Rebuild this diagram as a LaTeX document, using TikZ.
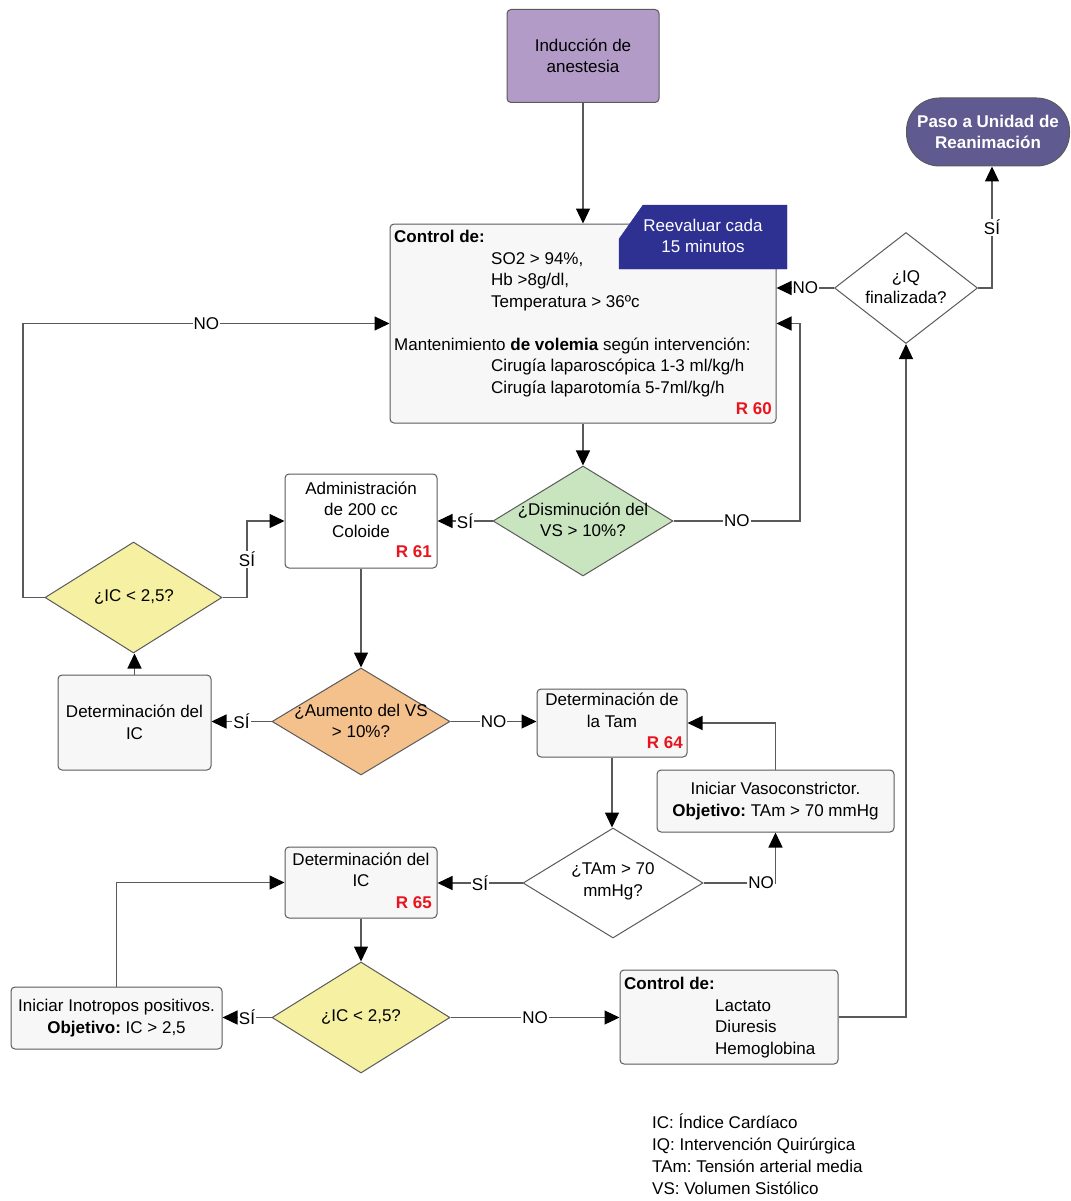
\documentclass[tikz,border=0pt]{standalone}
\usepackage{fontspec}
\setmainfont{Liberation Sans}
\frenchspacing
\usetikzlibrary{shapes.geometric, arrows.meta, positioning, calc}
\definecolor{lnc}{HTML}{5A5A5A}
\definecolor{induc}{HTML}{B39BC8}
\definecolor{pasoc}{HTML}{5F5B91}
\definecolor{reevc}{HTML}{2E3192}
\definecolor{dgreen}{HTML}{C8E5C0}
\definecolor{orng}{HTML}{F4C18D}
\definecolor{ylw}{HTML}{F5F0A2}
\definecolor{boxgray}{HTML}{F7F7F7}
\definecolor{refred}{HTML}{E8141E}

\begin{document}
\begin{tikzpicture}[x=1pt, y=-1pt,
  every node/.style={font=\fontsize{17}{21.5}\selectfont, inner sep=0pt},
  box/.style={draw=lnc, line width=1pt, rounded corners=4pt, fill=boxgray},
  dec/.style={diamond, draw=lnc, line width=1pt},
  txt/.style={align=center},
  ref/.style={text=refred, font=\fontsize{17}{20}\selectfont\bfseries, anchor=east},
  flow/.style={draw=lnc, line width=1.2pt, -{Triangle[length=15pt, width=14pt, color=black]}},
  lbl/.style={fill=white, inner sep=1pt}]
\useasboundingbox (0,0) rectangle (1070,1201);

% Top part
\node[box, fill=induc, minimum width=152, minimum height=93, txt] (ind) at (583,56) {Inducción de\\anestesia};
\node[box, fill=pasoc, rounded corners=33pt, minimum width=163, minimum height=68, txt, text=white,
      font=\fontsize{17}{21.5}\selectfont\bfseries] (paso) at (988,132) {Paso a Unidad de\\Reanimación};
\node[box, fill=white!97!black, minimum width=386, minimum height=199] (ctrl) at (583,323.5) {};
\node[anchor=north west, align=left] (ctrl-t) at (394,230) {\textbf{Control de:}\\
  \hspace*{97pt}SO2 > 94\%,\\
  \hspace*{97pt}Hb >8g/dl,\\
  \hspace*{97pt}Temperatura > 36ºc\\[21.5pt]
  Mantenimiento \textbf{de volemia} según intervención:\\
  \hspace*{97pt}Cirugía laparoscópica 1-3 ml/kg/h\\
  \hspace*{97pt}Cirugía laparotomía 5-7ml/kg/h};
\node[ref] (r60) at (772,409) {R 60};
\draw[fill=reevc, draw=reevc] (619,269) -- (619,239) -- (643,205) -- (787,205) -- (787,269) -- cycle;
\node[txt, text=white] (reev-t) at (703,236) {Reevaluar cada\\15 minutos};
\node[dec, fill=white, minimum width=143, minimum height=111] (iq) at (906,288) {};
\node[txt] (iq-t) at (906,287) {¿IQ\\finalizada?};

% Volemia
\node[dec, fill=dgreen, minimum width=180, minimum height=110] (dvs) at (583,521) {};
\node[txt] (dvs-t) at (583,520) {¿Disminución del\\VS > 10\%?};
\node[box, fill=white, minimum width=152, minimum height=94] (adm) at (361,521) {};
\node[txt] (adm-t) at (361,509.5) {Administración\\de 200 cc\\Coloide};
\node[ref] (r61) at (432,552) {R 61};
\node[dec, fill=ylw, minimum width=177, minimum height=111] (ic1) at (133.5,597.5) {};
\node (ic1-t) at (134,597) {¿IC < 2,5?};
\node[dec, fill=orng, minimum width=178, minimum height=107] (avs) at (361,721.5) {};
\node[txt] (avs-t) at (361,721) {¿Aumento del VS\\> 10\%?};
\node[box, minimum width=153, minimum height=95, txt] (dic) at (134.5,722.5) {Determinación del\\IC};

% Tension arterial
\node[box, minimum width=150, minimum height=68] (tamb) at (612,723) {};
\node[txt] (tamb-t) at (612,710.5) {Determinación de\\la Tam};
\node[ref] (r64) at (683,743) {R 64};
\node[dec, fill=white, minimum width=180, minimum height=110] (tamd) at (613,883) {};
\node[txt] (tamd-t) at (613,881.5) {¿TAm > 70\\mmHg?};
\node[box, minimum width=237, minimum height=62, txt] (vaso) at (775.5,801) {Iniciar Vasoconstrictor.\\\textbf{Objetivo:} TAm > 70 mmHg};

% Indice cardiaco
\node[box, minimum width=152, minimum height=71] (dic2) at (361,882.5) {};
\node[txt] (dic2-t) at (361,870) {Determinación del\\IC};
\node[ref] (r65) at (432,903) {R 65};
\node[dec, fill=ylw, minimum width=178, minimum height=111] (ic2) at (361,1017.5) {};
\node (ic2-t) at (361,1017) {¿IC < 2,5?};
\node[box, minimum width=211, minimum height=62, txt] (ino) at (116.5,1018) {Iniciar Inotropos positivos.\\\textbf{Objetivo:} IC > 2,5};
\node[box, minimum width=218, minimum height=94] (ctl2) at (729,1017) {};
\node[anchor=north west, align=left] (ctl2-t) at (624,977) {\textbf{Control de:}\\
  \hspace*{91pt}Lactato\\
  \hspace*{91pt}Diuresis\\
  \hspace*{91pt}Hemoglobina};

% Legend
\node[anchor=north west, align=left, font=\fontsize{17}{21.7}\selectfont] (leg) at (652,1114) {IC: Índice Cardíaco\\
  IQ: Intervención Quirúrgica\\
  TAm: Tensión arterial media\\
  VS: Volumen Sistólico};

% Connectors
\draw[flow] (ind) -- (ctrl);
\draw[flow] (iq.west) -- node[lbl] (no-iq) {NO} (iq.west -| ctrl.east);
\draw[flow] (iq.east) -| node[lbl, pos=0.75] (si-iq) {SÍ} ([xshift=4pt]paso.south);
\draw[flow] (ctrl) -- (dvs);
\draw[flow] (dvs.east) -- node[lbl] (no-dvs) {NO} (800,521) |- (ctrl.east);
\draw[flow] (dvs) -- node[lbl] (si-dvs) {SÍ} (adm);
\draw[flow] (adm) -- (avs);
\draw[flow] (avs.west) -- node[lbl] (si-avs) {SÍ} (avs.west -| dic.east);
\draw[flow] (dic.north) -- (dic.north |- ic1.south);
\draw[flow] (ic1.east) -- (247,597.5) |- node[lbl, pos=0.25] (si-ic1) {SÍ} (adm.west);
\draw[flow] (ic1.west) -- (23,597.5) |- node[lbl, pos=0.75] (no-ic1) {NO} (ctrl.west);
\draw[flow] (avs.east) -- node[lbl] (no-avs) {NO} (avs.east -| tamb.west);
\draw[flow] (tamb.south) -- (tamb.south |- tamd.north);
\draw[flow] (tamd.east) -| node[lbl, pos=0.4] (no-tam) {NO} (vaso.south);
\draw[flow] (vaso.north) |- (tamb.east);
\draw[flow] (tamd.west) -- node[lbl] (si-tam) {SÍ} (tamd.west -| dic2.east);
\draw[flow] (dic2) -- (ic2);
\draw[flow] (ic2.west) -- node[lbl] (si-ic2) {SÍ} (ic2.west -| ino.east);
\draw[flow] (ino.north) |- (dic2.west);
\draw[flow] (ic2.east) -- node[lbl] (no-ic2) {NO} (ic2.east -| ctl2.west);
\draw[flow] (ctl2.east) -| (iq.south);
\end{tikzpicture}
\end{document}
